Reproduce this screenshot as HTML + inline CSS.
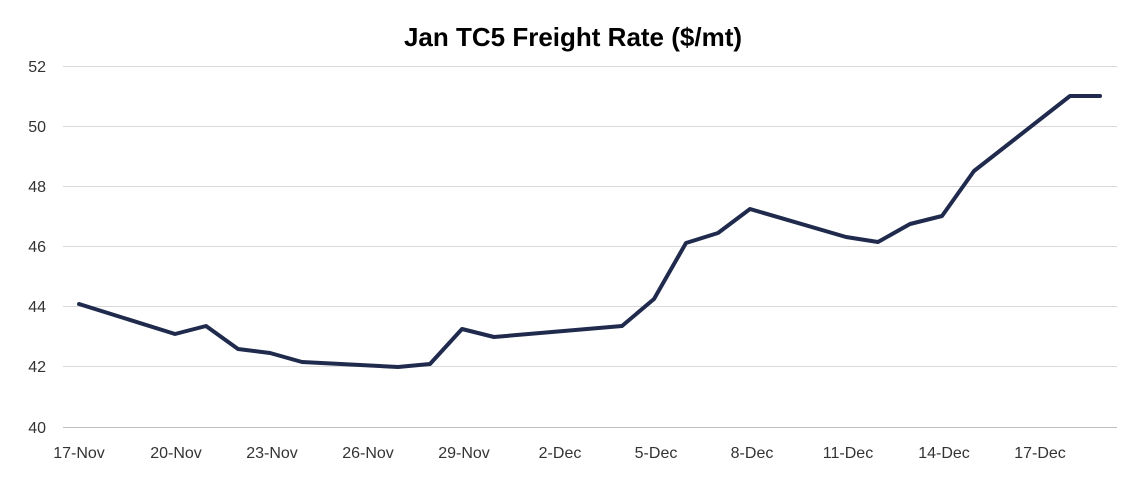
<!DOCTYPE html>
<html><head><meta charset="utf-8"><style>
body{margin:0;background:#fff}
svg{display:block;font-family:"Liberation Sans",sans-serif}
</style></head><body>
<svg width="1144" height="479" viewBox="0 0 1144 479">
<text x="573" y="46" text-anchor="middle" font-size="26" font-weight="bold" fill="#000">Jan TC5 Freight Rate ($/mt)</text>
<g stroke="#d9d9d9" stroke-width="1">
<line x1="63" x2="1117" y1="66.5" y2="66.5"/>
<line x1="63" x2="1117" y1="126.5" y2="126.5"/>
<line x1="63" x2="1117" y1="186.5" y2="186.5"/>
<line x1="63" x2="1117" y1="246.5" y2="246.5"/>
<line x1="63" x2="1117" y1="306.5" y2="306.5"/>
<line x1="63" x2="1117" y1="366.5" y2="366.5"/>
</g>
<line x1="63" x2="1117" y1="427.5" y2="427.5" stroke="#bfbfbf" stroke-width="1"/>
<g font-size="16" fill="#333" text-anchor="end">
<text x="46" y="72">52</text><text x="46" y="132">50</text><text x="46" y="192">48</text>
<text x="46" y="252">46</text><text x="46" y="312">44</text><text x="46" y="372">42</text><text x="46" y="433">40</text>
</g>
<g font-size="16" fill="#333" text-anchor="middle">
<text x="79" y="458">17-Nov</text><text x="176" y="458">20-Nov</text><text x="272" y="458">23-Nov</text>
<text x="368" y="458">26-Nov</text><text x="464" y="458">29-Nov</text><text x="560" y="458">2-Dec</text>
<text x="656" y="458">5-Dec</text><text x="752" y="458">8-Dec</text><text x="848" y="458">11-Dec</text>
<text x="944" y="458">14-Dec</text><text x="1040" y="458">17-Dec</text>
</g>
<polyline fill="none" stroke="#1f2a4d" stroke-width="4" stroke-linejoin="round" stroke-linecap="round"
points="79,304 175,334 206,326 238,349 270,353 302,362 398,367 430,364 462,329 494,337 622,326 654,299 686,243 718,233 750,209 846,237 878,242 910,224 942,216 974,171 1070,96 1100,96"/>
</svg>
</body></html>
